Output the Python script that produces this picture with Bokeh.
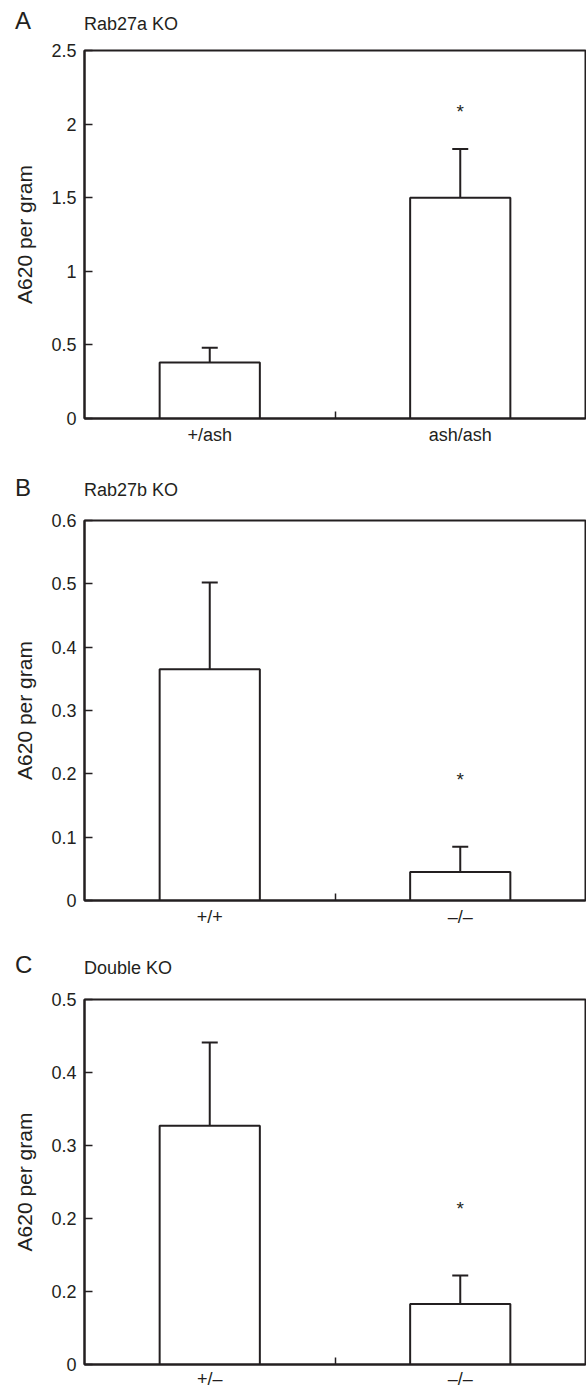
from bokeh.plotting import figure
from bokeh.models import (Range1d, FixedTicker, ColumnDataSource, Whisker, TeeHead, Div)
from bokeh.layouts import column
from bokeh.embed import file_html
from bokeh.resources import INLINE
from bokeh.core.properties import value

FONT = "Liberation Sans"
INK = "#231f20"
W = 586

# ---------------- data ----------------
# Panel A: Rab27a KO
a_cats = ["+/ash", "ash/ash"]
a_means = [0.38, 1.50]
a_errs = [0.10, 0.33]
a_star = [None, 2.10]
a_yticks = [0, 0.5, 1, 1.5, 2, 2.5]
a_ylabels = ["0", "0.5", "1", "1.5", "2", "2.5"]

# Panel B: Rab27b KO
b_cats = ["+/+", "\u2013/\u2013"]
b_means = [0.365, 0.045]
b_errs = [0.137, 0.040]
b_star = [None, 0.194]
b_yticks = [0, 0.1, 0.2, 0.3, 0.4, 0.5, 0.6]
b_ylabels = ["0", "0.1", "0.2", "0.3", "0.4", "0.5", "0.6"]

# Panel C: Double KO (tick labels as printed in the original)
c_cats = ["+/\u2013", "\u2013/\u2013"]
c_means = [0.327, 0.083]
c_errs = [0.114, 0.039]
c_star = [None, 0.217]
c_yticks = [0, 0.1, 0.2, 0.3, 0.4, 0.5]
c_ylabels = ["0", "0.2", "0.2", "0.3", "0.4", "0.5"]

Y_LABEL = "A620 per gram"


def header(letter, title, height, letter_base, title_base):
    """Row above a panel holding the panel letter and the panel title."""
    # baseline of a line box with line-height == font-size (Liberation Sans)
    lt = letter_base - 0.8465 * 24
    tt = title_base - 0.8465 * 18
    html = (
        f'<div style="position:relative;width:{W}px;height:{height}px;'
        f'font-family:\'{FONT}\';color:{INK};">'
        f'<span style="position:absolute;left:15px;top:{lt:.1f}px;'
        f'font-size:24px;line-height:24px;white-space:nowrap;">{letter}</span>'
        f'<span style="position:absolute;left:84px;top:{tt:.1f}px;'
        f'font-size:18px;line-height:18px;white-space:nowrap;">{title}</span>'
        f'</div>'
    )
    return Div(text=html, width=W, height=height, margin=0)


def panel(cats, means, errs, stars, yticks, ylabels, height, top, bottom,
          cat_standoff):
    xs = [i + 0.5 for i in range(len(cats))]
    yend = yticks[-1]
    p = figure(width=W, height=height, x_range=Range1d(0, len(cats)),
               y_range=Range1d(0, yend), output_backend="svg",
               toolbar_location=None, min_border_left=84, min_border_right=1,
               min_border_top=top, min_border_bottom=bottom)
    p.background_fill_color = "white"
    p.border_fill_color = "white"
    p.outline_line_color = INK
    p.outline_line_width = 2
    p.outline_line_alpha = 1
    p.grid.visible = False

    src = ColumnDataSource(dict(
        x=xs, top=means, cat=cats,
        upper=[m + e for m, e in zip(means, errs)], lower=means))
    p.vbar(x="x", top="top", bottom=0, width=0.4, source=src,
           fill_color="white", line_color=INK, line_width=2)
    w = Whisker(base="x", upper="upper", lower="lower", source=src,
                line_color=INK, line_width=2,
                upper_head=TeeHead(size=16, line_color=INK, line_width=2),
                lower_head=None)
    p.add_layout(w)

    sx = [x for x, s in zip(xs, stars) if s is not None]
    sy = [s for s in stars if s is not None]
    p.text(x=sx, y=sy, text=["*"] * len(sx), text_align="center",
           text_baseline="middle", y_offset=2,
           text_font=value(FONT), text_font_size="19px", text_color=INK)

    # y axis
    ya = p.yaxis[0]
    ya.ticker = FixedTicker(ticks=yticks, minor_ticks=[])
    ya.major_label_overrides = {t: l for t, l in zip(yticks, ylabels)}
    ya.major_tick_in = 8
    ya.major_tick_out = 0
    ya.minor_tick_in = 0
    ya.minor_tick_out = 0
    ya.major_tick_line_color = INK
    ya.major_tick_line_width = 1.5
    ya.axis_line_color = INK
    ya.axis_line_width = 2
    ya.major_label_text_font = FONT
    ya.major_label_text_font_size = "18px"
    ya.major_label_text_color = INK
    ya.major_label_standoff = 8
    ya.axis_label = Y_LABEL
    ya.axis_label_text_font = FONT
    ya.axis_label_text_font_size = "21px"
    ya.axis_label_text_font_style = "normal"
    ya.axis_label_text_color = INK
    ya.axis_label_standoff = 12

    # x axis: group names at the bar centres, one separator tick between groups
    xa = p.xaxis[0]
    xa.ticker = FixedTicker(ticks=xs,
                            minor_ticks=[i + 1 for i in range(len(cats) - 1)])
    xa.major_label_overrides = {x: c for x, c in zip(xs, cats)}
    xa.major_tick_in = 0
    xa.major_tick_out = 0
    xa.minor_tick_in = 7
    xa.minor_tick_out = 0
    xa.minor_tick_line_color = INK
    xa.minor_tick_line_width = 1.5
    xa.axis_line_color = INK
    xa.axis_line_width = 2
    xa.major_label_text_font = FONT
    xa.major_label_text_font_size = "18px"
    xa.major_label_text_color = INK
    xa.major_label_standoff = cat_standoff
    return p


hA = header("A", "Rab27a KO", 38, 29, 30)
pA = panel(a_cats, a_means, a_errs, a_star, a_yticks, a_ylabels,
           height=432, top=12, bottom=52, cat_standoff=6)
hB = header("B", "Rab27b KO", 38, 26, 26)
pB = panel(b_cats, b_means, b_errs, b_star, b_yticks, b_ylabels,
           height=432, top=12, bottom=40, cat_standoff=6)
hC = header("C", "Double KO", 47, 33, 34)
pC = panel(c_cats, c_means, c_errs, c_star, c_yticks, c_ylabels,
           height=404, top=12, bottom=25, cat_standoff=4)

layout = column(hA, pA, hB, pB, hC, pC, spacing=0)
open("out.html", "w").write(file_html(layout, INLINE))
